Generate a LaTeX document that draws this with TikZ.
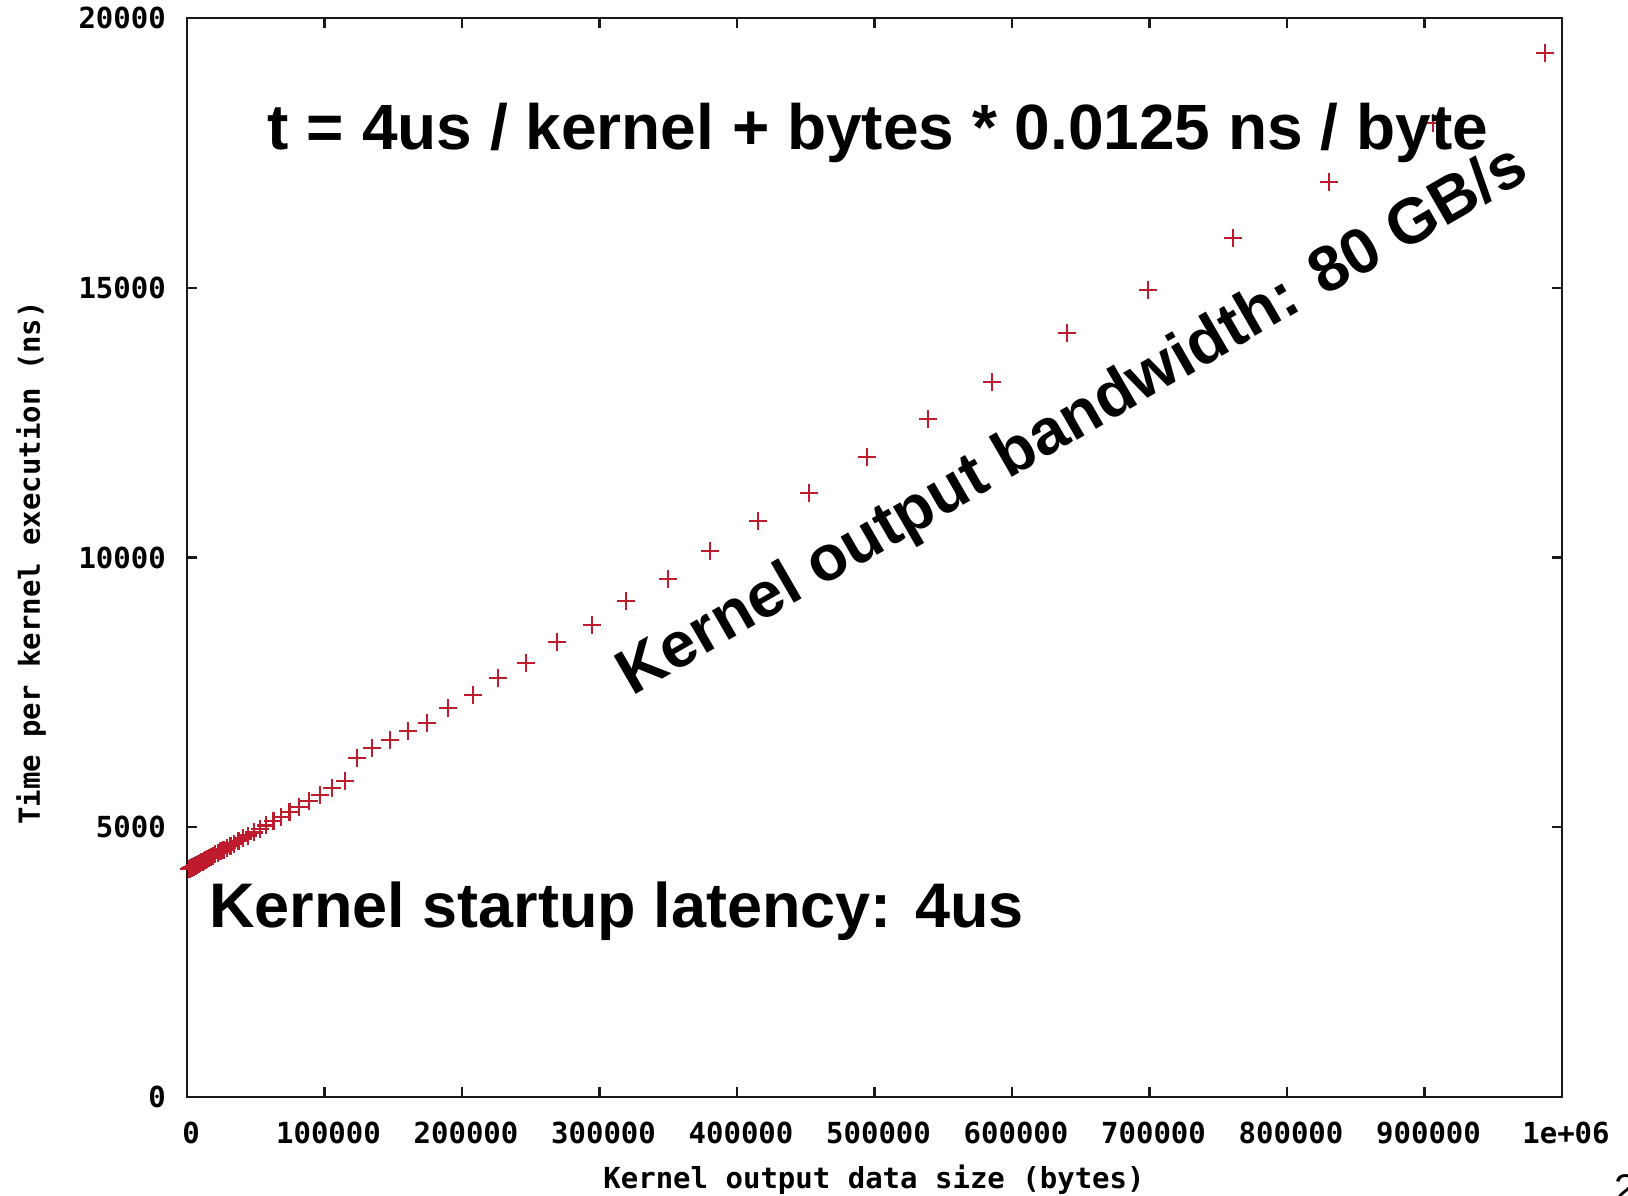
\documentclass[tikz,border=0pt]{standalone}
\usepackage{fontspec}
\setmainfont{Liberation Sans}
\newfontfamily\gpfont{DejaVu Sans Mono}
\usetikzlibrary{positioning}
\definecolor{markred}{RGB}{190,28,45}
\definecolor{framegray}{RGB}{25,25,25}
\tikzset{
  gp/.style    ={font=\gpfont\bfseries\fontsize{29}{29}\selectfont, inner sep=0pt},
  note/.style  ={font=\bfseries\fontsize{64}{64}\selectfont, inner sep=0pt},
  frame/.style ={draw=framegray, line width=2.2pt},
  ptmark/.style={draw=markred, line width=2.4pt}
}

\begin{document}
\begin{tikzpicture}[x=1pt,y=1pt]
\useasboundingbox[fill=white] (0,0) rectangle (1628,1195);

% plot area, in kB and us
\begin{scope}[shift={(187,98)}, x=1.375pt, y=53.95pt]
  \draw[frame] (0,0) rectangle (1000,20);
  \foreach \x/\lab in {0/0,100/100000,200/200000,300/300000,400/400000,500/500000,
                       600/600000,700/700000,800/800000,900/900000,1000/1e+06} {
    \draw[frame] (\x,0) -- ++(0,10pt);
    \draw[frame] (\x,20) -- ++(0,-10pt);
    \node[gp, xshift=4pt, yshift=-36pt] (xt\x) at (\x,0) {\lab};
  }
  \foreach \y/\lab in {0/0,5/5000,10/10000,15/15000,20/20000} {
    \draw[frame] (0,\y) -- ++(10pt,0);
    \draw[frame] (1000,\y) -- ++(-10pt,0);
    \node[gp, anchor=east, xshift=-21pt] (yt\y) at (0,\y) {\lab};
  }

  % measured points
  \foreach \px/\py in {987.6/19.35,906.2/18.05,830.5/16.96,760.7/15.92,698.9/14.96,
                       640/14.16,585.5/13.25,538.9/12.57,494.5/11.86,452.4/11.20,
                       415.3/10.68,380.4/10.12,349.8/9.60,319.3/9.19,294.5/8.75,
                       269.1/8.43,246.5/8.04,226.2/7.77,208/7.45,189.8/7.21,
                       174.5/6.93,160.7/6.78,147.6/6.62,134.5/6.47,123.6/6.28,114.9/5.86}
    \draw[ptmark] (\px,\py) +(-9pt,0) -- +(9pt,0) +(0,-9pt) -- +(0,9pt);
  % small sizes
  \foreach \k in {1,...,50} {
    \pgfmathsetmacro\px{114.9/1.09^\k}
    \pgfmathsetmacro\py{4.2+0.0145*\px}
    \draw[ptmark] (\px,\py) +(-9pt,0) -- +(9pt,0) +(0,-9pt) -- +(0,9pt);
  }
\end{scope}

\node[gp] (xlab) at (874,15) {Kernel output data size (bytes)};
\node[gp, rotate=90] (ylab) at (31,632) {Time per kernel execution (ns)};

\node[note, anchor=base] (model) at (878,1045) {t = 4us / kernel + bytes * 0.0125 ns / byte};
\node[note, anchor=base west, font=\bfseries\fontsize{63}{63}\selectfont] (latency) at (209,268) {Kernel startup latency: 4us};
\node[note, anchor=base, rotate=30] (bandwidth) at (1082,758) {Kernel output bandwidth: 80 GB/s};

\node[anchor=north west, inner sep=0pt, font=\fontsize{40}{40}\selectfont] (slide) at (1614,21) {2};
\end{tikzpicture}
\end{document}
